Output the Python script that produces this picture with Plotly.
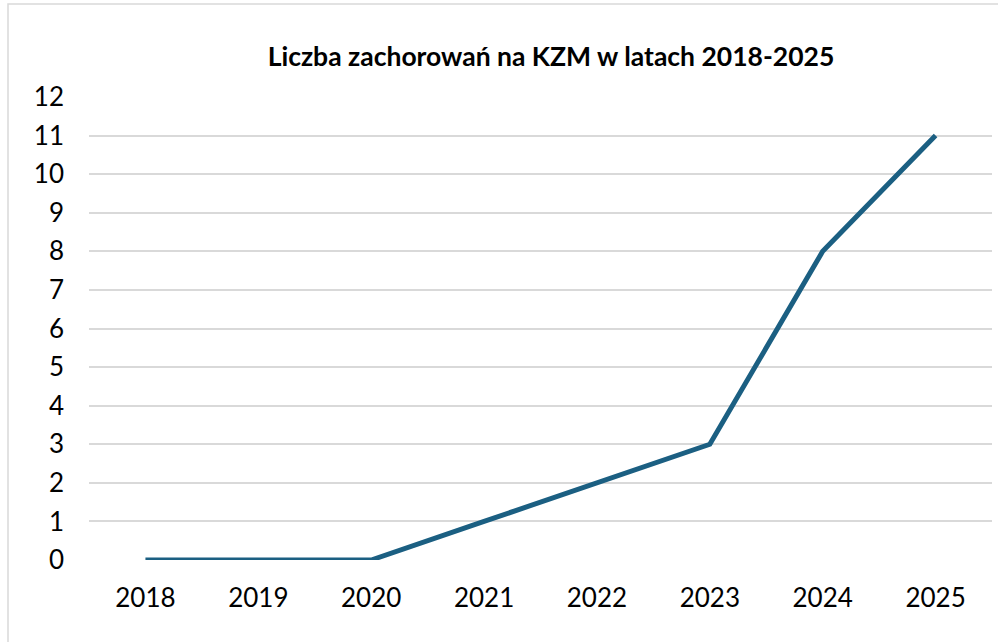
import plotly.graph_objects as go

years = ["2018", "2019", "2020", "2021", "2022", "2023", "2024", "2025"]
cases = [0, 0, 0, 1, 2, 3, 8, 11]
y_ticks = list(range(0, 13))
title_text = "Liczba zachorowań na KZM w latach 2018-2025"

W, H = 998, 642
L, R, T, B = 89, 6, 97, 82
pw, ph = W - L - R, H - T - B

def px_x(p):
    return (p - L) / pw

def px_y(p):
    return (H - B - p) / ph

fig = go.Figure()
fig.add_trace(go.Scatter(
    x=years, y=cases, mode="lines",
    line=dict(color="#1B5F82", width=5),
    hoverinfo="x+y", showlegend=False,
))

fig.update_layout(
    width=W, height=H,
    margin=dict(l=L, r=R, t=T, b=B),
    paper_bgcolor="white", plot_bgcolor="white",
    font=dict(family="Lato, 'Open Sans', sans-serif", color="#000000", size=26),
    title=dict(
        text="<b>" + title_text + "</b>",
        x=px_x(551), xref="paper", xanchor="center",
        y=1 - 57 / H, yref="container", yanchor="middle",
        font=dict(size=26.5, color="#000000"),
    ),
    xaxis=dict(
        type="category", showgrid=False, zeroline=False, showline=False,
        ticks="", tickfont=dict(size=26), ticklabelstandoff=20,
        range=[-0.5, len(years) - 0.5],
    ),
    yaxis=dict(
        range=[0, 12], tickvals=y_ticks, showgrid=True, gridcolor="#D9D9D9",
        gridwidth=1.5, zeroline=False, showline=False, ticks="",
        tickfont=dict(size=26), ticklabelstandoff=24,
    ),
    shapes=[dict(
        type="rect", xref="paper", yref="paper",
        x0=px_x(8), x1=px_x(1010), y0=px_y(660), y1=px_y(4),
        line=dict(color="#D9D9D9", width=1.5), fillcolor="rgba(0,0,0,0)",
        layer="below",
    )],
)

fig.write_html(
    "out.html",
    config={"displayModeBar": False},
    post_script="document.body.style.margin='0';document.body.style.overflow='hidden';",
)
